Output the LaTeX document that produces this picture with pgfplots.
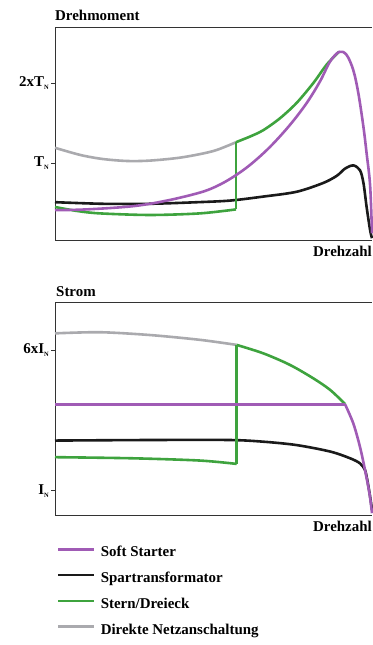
\documentclass[border=0pt]{standalone}
\usepackage{fontspec}
\setmainfont{Liberation Serif}
\usepackage{pgfplots}
\pgfplotsset{compat=1.18}
\definecolor{cpurple}{HTML}{A05BB5}
\definecolor{cgreen}{HTML}{3EA33E}
\definecolor{cgray}{HTML}{AAAAAE}
\definecolor{cblack}{HTML}{1A1A1A}
\definecolor{cframe}{HTML}{333333}
\newcommand{\sub}[1]{\raisebox{-0.2em}{\fontsize{6.5}{7}\selectfont #1}}
\begin{document}
\begin{tikzpicture}[x=1bp,y=1bp]
\useasboundingbox (0,0) rectangle (372,645);
\pgfplotsset{
  myaxis/.style={
    anchor=south west, scale only axis, width=317bp,
    xmin=0, xmax=100,
    axis lines*=left,
    axis line style={color=cframe, line width=0.8bp},
    xtick=\empty,
    tick align=outside, major tick length=4bp,
    tick style={color=cframe, line width=0.8bp},
    yticklabel style={font=\bfseries\fontsize{15}{18}\selectfont, inner sep=2bp},
    every axis plot/.append style={line width=2.6bp, line join=round},
    clip=false,
  }
}
% ---------------- Drehmoment ----------------
\begin{axis}[myaxis, at={(55bp,405bp)}, height=213bp,
  ymin=0.0375, ymax=2.7, ytick={1,2}, yticklabels={T\sub{N},2xT\sub{N}}]
\draw[cframe, line width=0.8bp] (rel axis cs:0,1) -- (rel axis cs:1,1);
\addplot[cgray, smooth] coordinates {(0,1.19) (8,1.10) (15,1.05) (22.7,1.025) (30,1.03) (40,1.07) (50,1.15) (57.1,1.26)};
\addplot[cblack, smooth, tension=0.5] coordinates {(0,0.51) (15,0.49) (30,0.49) (45,0.51) (55.2,0.53) (65.7,0.58) (76.2,0.64) (84.6,0.75) (88.9,0.84) (91.5,0.93) (94.1,0.97) (96.2,0.91) (97.3,0.75) (98.3,0.45) (99.4,0.16) (100,0.06)};
\addplot[cgreen, smooth] coordinates {(0,0.45) (7,0.40) (14.2,0.37) (30,0.35) (45.7,0.37) (57.1,0.42)};
\addplot[cgreen] coordinates {(57.1,0.42) (57.1,1.26)};
\addplot[cgreen, smooth] coordinates {(57.1,1.26) (61.5,1.33) (65.7,1.41) (71,1.56) (76.2,1.75) (81.5,2.0) (85.7,2.23) (89.6,2.39)};
\addplot[cpurple, smooth, tension=0.55] coordinates {(0,0.41) (10,0.42) (24.6,0.46) (35.3,0.53) (45.7,0.63) (51,0.71) (56,0.82) (61.5,0.975) (67.8,1.2) (74.1,1.475) (79.4,1.75) (83.6,2.02) (86.8,2.27) (89.7,2.39) (92,2.35) (94.1,2.16) (95.7,1.87) (97.3,1.45) (98.3,1.12) (99.4,0.72) (100,0.12)};
\end{axis}
% ---------------- Strom ----------------
\begin{axis}[myaxis, at={(55bp,130bp)}, height=212.3bp,
  ymin=0.135, ymax=7.68, ytick={1,6}, yticklabels={I\sub{N},6xI\sub{N}},
  legend style={at={(axis description cs:0.0063,-0.1446)}, anchor=north west,
    draw=none, fill=none, inner sep=0pt, row sep=10.7bp, column sep=5bp,
    nodes={inner sep=0pt, text height=11bp, text depth=4bp},
    font=\bfseries\fontsize{15}{18}\selectfont},
  legend cell align=left,
  legend image code/.code={\draw[#1, line width=2.6bp] (0bp,4bp) -- (36bp,4bp);}]
\draw[cframe, line width=0.8bp] (rel axis cs:0,1) -- (rel axis cs:1,1);
\addlegendimage{cpurple}\addlegendentry{Soft Starter}
\addlegendimage{cblack}\addlegendentry{Spartransformator}
\addlegendimage{cgreen}\addlegendentry{Stern/Dreieck}
\addlegendimage{cgray}\addlegendentry{Direkte Netzanschaltung}
\addplot[cgray, smooth, forget plot] coordinates {(0,6.59) (14.2,6.63) (30,6.53) (45.7,6.36) (57.3,6.18)};
\addplot[cblack, smooth, tension=0.5, forget plot] coordinates {(0,2.78) (30,2.80) (55,2.80) (65.7,2.74) (76.2,2.62) (86.8,2.39) (93.1,2.15) (96.2,1.97) (97.8,1.73) (98.7,1.26) (99.4,0.79) (100,0.32)};
\addplot[cgreen, smooth, forget plot] coordinates {(0,2.19) (24.6,2.15) (45.7,2.07) (57.3,1.95)};
\addplot[cgreen, forget plot] coordinates {(57.3,1.95) (57.3,6.18)};
\addplot[cgreen, smooth, forget plot] coordinates {(57.3,6.18) (65.7,5.88) (74.1,5.47) (81.5,4.99) (86.8,4.58) (91.5,4.08)};
\addplot[cpurple, forget plot] coordinates {(0,4.07) (91.5,4.07)};
\addplot[cpurple, smooth, forget plot] coordinates {(91.5,4.07) (94.1,3.39) (96.2,2.56) (97.8,1.73) (99.2,0.9) (100,0.2)};
\end{axis}
% ---------------- Texts ----------------
\node[anchor=base west, inner sep=0pt, font=\bfseries\fontsize{15}{18}\selectfont] at (55,624.3) {Drehmoment};
\node[anchor=base east, inner sep=0pt, font=\bfseries\fontsize{15}{18}\selectfont] at (372,388) {Drehzahl};
\node[anchor=base west, inner sep=0pt, font=\bfseries\fontsize{15}{18}\selectfont] at (56,348.3) {Strom};
\node[anchor=base east, inner sep=0pt, font=\bfseries\fontsize{15}{18}\selectfont] at (372,113) {Drehzahl};
\end{tikzpicture}
\end{document}
